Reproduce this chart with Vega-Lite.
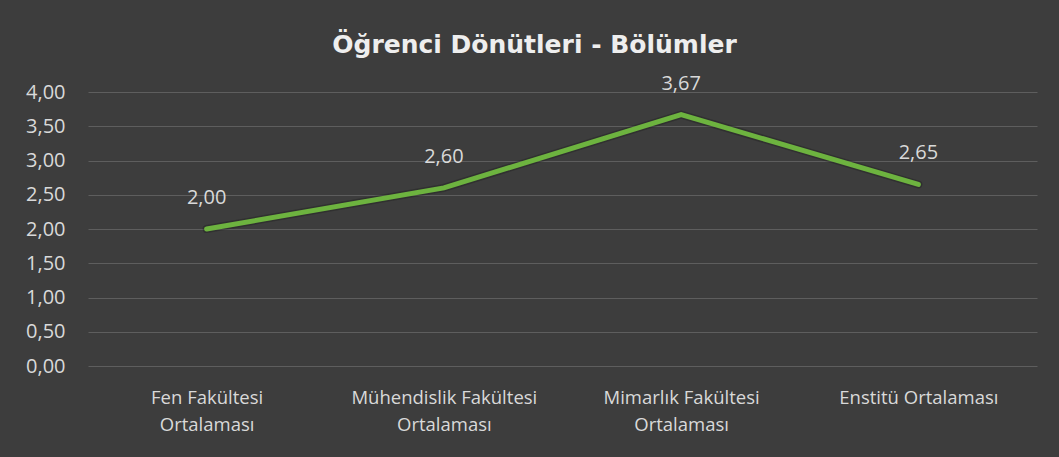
{
  "$schema": "https://vega.github.io/schema/vega-lite/v6.json",
  "autosize": {"type": "none"},
  "width": 949,
  "height": 274,
  "padding": {"left": 88, "top": 92, "right": 22, "bottom": 91},
  "background": "#3d3d3d",
  "config": {
    "view": {"stroke": null},
    "locale": {"number": {"decimal": ",", "thousands": ".", "grouping": [3], "currency": ["", " ₺"]}},
    "font": "Open Sans"
  },
  "title": {
    "text": "Öğrenci Dönütleri - Bölümler",
    "font": "DejaVu Sans",
    "fontSize": 25,
    "fontWeight": "bold",
    "color": "#eeeeee",
    "anchor": "middle",
    "dx": -28,
    "offset": 16,
    "limit": 0
  },
  "data": {
    "values": [
      {"bolum": "Fen Fakültesi\nOrtalaması", "ortalama": 2.0},
      {"bolum": "Mühendislik Fakültesi\nOrtalaması", "ortalama": 2.6},
      {"bolum": "Mimarlık Fakültesi\nOrtalaması", "ortalama": 3.67},
      {"bolum": "Enstitü Ortalaması", "ortalama": 2.65}
    ]
  },
  "encoding": {
    "x": {
      "field": "bolum",
      "type": "nominal",
      "sort": null,
      "title": null,
      "axis": {
        "labelAngle": 0,
        "labelExpr": "split(datum.label, '\\n')",
        "labelFont": "Open Sans",
        "labelFontSize": 18.5,
        "labelColor": "#d9d9d9",
        "labelLineHeight": 27,
        "labelPadding": 22,
        "labelLimit": 0,
        "ticks": false,
        "domain": false,
        "grid": false
      }
    },
    "y": {
      "field": "ortalama",
      "type": "quantitative",
      "scale": {"domain": [0, 4]},
      "title": null,
      "axis": {
        "values": [0, 0.5, 1, 1.5, 2, 2.5, 3, 3.5, 4],
        "format": ".2f",
        "labelFont": "Open Sans",
        "labelFontSize": 20,
        "labelColor": "#d9d9d9",
        "labelPadding": 23,
        "ticks": false,
        "domain": false,
        "grid": true,
        "gridColor": "#5e5e5e",
        "gridWidth": 1
      }
    }
  },
  "layer": [
    {
      "mark": {"type": "line", "color": "#1a1a1a", "strokeWidth": 8, "opacity": 0.35, "strokeCap": "round", "strokeJoin": "miter"},
      "encoding": {}
    },
    {
      "mark": {"type": "line", "color": "#6db33f", "strokeWidth": 5, "strokeCap": "round", "strokeJoin": "miter"},
      "encoding": {}
    },
    {
      "mark": {"type": "text", "dy": -31, "font": "Open Sans", "fontSize": 20, "color": "#d9d9d9"},
      "encoding": {"text": {"field": "ortalama", "type": "quantitative", "format": ".2f"}}
    }
  ]
}
